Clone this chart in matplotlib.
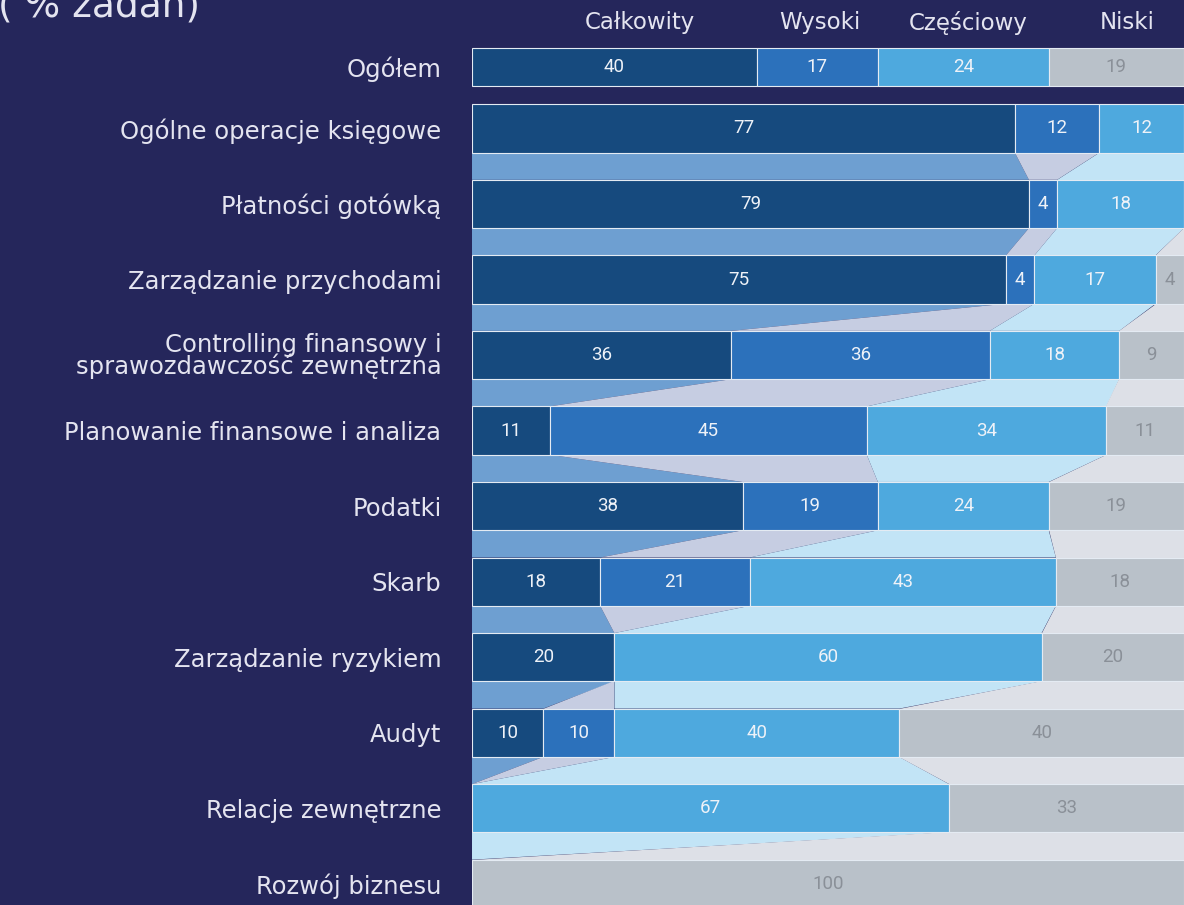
import numpy as np
import matplotlib
matplotlib.use('Agg')
import matplotlib.pyplot as plt

# Data: share of tasks by automation potential (%)
rows = ['Ogółem', 'Ogólne operacje księgowe', 'Płatności gotówką',
        'Zarządzanie przychodami',
        'Controlling finansowy i\nsprawozdawczość zewnętrzna',
        'Planowanie finansowe i analiza', 'Podatki', 'Skarb',
        'Zarządzanie ryzykiem', 'Audyt', 'Relacje zewnętrzne', 'Rozwój biznesu']
series = ['Całkowity', 'Wysoki', 'Częściowy', 'Niski']
calkowity = [40, 77, 79, 75, 36, 11, 38, 18, 20, 10, 0, 0]
wysoki = [17, 12, 4, 4, 36, 45, 19, 21, 0, 10, 0, 0]
czesciowy = [24, 12, 18, 17, 18, 34, 24, 43, 60, 40, 67, 0]
niski = [19, 0, 0, 4, 9, 11, 19, 18, 20, 40, 33, 100]
header_x = [23.6, 48.9, 69.7, 92.0]

bg = '#25265b'
bar_colors = ['#164a7e', '#2c71bb', '#4ea9de', '#b9c1c9']
link_colors = ['#6e9fd1', '#c6cde2', '#c2e4f6', '#dde0e7']
text_colors = ['#eef2f8', '#eef2f8', '#eef2f8', '#8a9098']
label_color = '#e4e4f0'

vals = np.array([calkowity, wysoki, czesciowy, niski], dtype=float).T
# bars are drawn full width: rounded shares are rescaled to their row total
widths = vals / vals.sum(axis=1, keepdims=True) * 100
lefts = np.hstack([np.zeros((len(rows), 1)), np.cumsum(widths, axis=1)[:, :-1]])

# row positions: summary row sits a bit closer to the rest
ypos = np.r_[-0.81, np.arange(len(rows) - 1)]
heights = np.r_[0.5, np.full(len(rows) - 1, 0.64)]

fig = plt.figure(figsize=(11.84, 9.05), dpi=100, facecolor=bg)
ax = fig.add_axes([472 / 1184, 0, 712 / 1184, 1])
ax.set_facecolor(bg)

# connectors between consecutive rows (not after the summary row)
for i in range(1, len(rows) - 1):
    y0 = ypos[i] + heights[i] / 2
    y1 = ypos[i + 1] - heights[i + 1] / 2
    for j in range(4):
        a0, b0 = lefts[i, j], lefts[i, j] + widths[i, j]
        a1, b1 = lefts[i + 1, j], lefts[i + 1, j] + widths[i + 1, j]
        ax.fill([a0, b0, b1, a1], [y0, y0, y1, y1], color=link_colors[j],
                lw=0, zorder=1)

for j in range(4):
    ax.barh(ypos, widths[:, j], left=lefts[:, j], height=heights,
            color=bar_colors[j], edgecolor='#e4ebf3', linewidth=0.8, zorder=2)
    for i in range(len(rows)):
        if vals[i, j] <= 0:
            continue
        cx = lefts[i, j] + widths[i, j] / 2
        ax.text(cx, ypos[i], f'{vals[i, j]:.0f}', ha='center', va='center',
                color=text_colors[j], fontsize=13.5, family='Roboto', zorder=3)

for j, name in enumerate(series):
    ax.text(header_x[j], -1.40, name, ha='center', va='center',
            color=label_color, fontsize=16.5, family='DejaVu Sans')

ax.set_xlim(0, 100)
ax.set_ylim(10.28, -1.70)
ax.set_yticks(ypos)
ax.set_yticklabels(rows, fontsize=17.5, color=label_color, family='DejaVu Sans',
                   linespacing=0.85)
ax.tick_params(axis='y', length=0, pad=22)
ax.set_xticks([])
for s in ax.spines.values():
    s.set_visible(False)

fig.text(-0.002, 1 - 16 / 905, '( % zadań)', ha='left', va='baseline',
         color=label_color, fontsize=27, family='DejaVu Sans')

fig.savefig('out.png', dpi=100, facecolor=bg)
